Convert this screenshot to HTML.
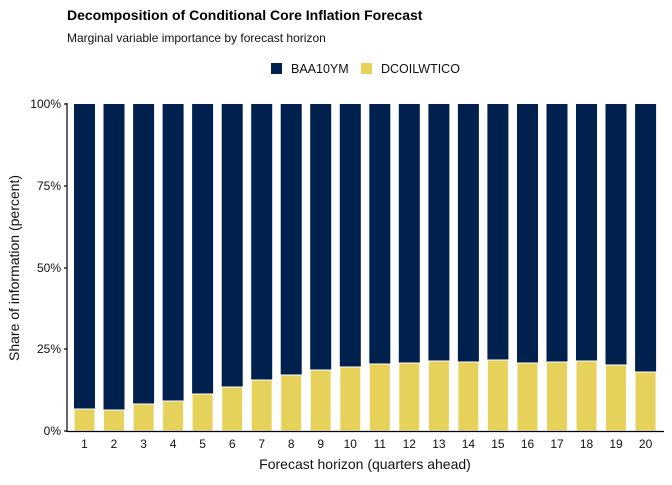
<!DOCTYPE html>
<html><head><meta charset="utf-8"><style>body{margin:0;background:#fff}</style></head><body>
<svg width="672" height="480" xmlns="http://www.w3.org/2000/svg" font-family="Liberation Sans, sans-serif">
<rect width="672" height="480" fill="#fff"/>
<text x="67" y="20" font-size="14" font-weight="bold" fill="#000">Decomposition of Conditional Core Inflation Forecast</text>
<text x="67" y="42" font-size="12" fill="#111">Marginal variable importance by forecast horizon</text>
<rect x="271" y="63" width="11" height="11" fill="#00214d"/>
<text x="291" y="73" font-size="12.5" fill="#111">BAA10YM</text>
<rect x="361" y="63" width="11" height="11" fill="#e6d25b"/>
<text x="381" y="73" font-size="12.5" fill="#111">DCOILWTICO</text>
<g fill="#00214d">
<rect x="74" y="104" width="21" height="327"/><rect x="103.5" y="104" width="21" height="327"/><rect x="133.1" y="104" width="21" height="327"/><rect x="162.6" y="104" width="21" height="327"/><rect x="192.1" y="104" width="21" height="327"/><rect x="221.7" y="104" width="21" height="327"/><rect x="251.2" y="104" width="21" height="327"/><rect x="280.7" y="104" width="21" height="327"/><rect x="310.2" y="104" width="21" height="327"/><rect x="339.8" y="104" width="21" height="327"/><rect x="369.3" y="104" width="21" height="327"/><rect x="398.8" y="104" width="21" height="327"/><rect x="428.4" y="104" width="21" height="327"/><rect x="457.9" y="104" width="21" height="327"/><rect x="487.4" y="104" width="21" height="327"/><rect x="517" y="104" width="21" height="327"/><rect x="546.5" y="104" width="21" height="327"/><rect x="576" y="104" width="21" height="327"/><rect x="605.5" y="104" width="21" height="327"/><rect x="635.1" y="104" width="21" height="327"/>
</g>
<g fill="#e6d25b" stroke="#fff" stroke-width="1">
<rect x="74" y="409" width="21" height="22"/><rect x="103.5" y="410" width="21" height="21"/><rect x="133.1" y="404" width="21" height="27"/><rect x="162.6" y="401" width="21" height="30"/><rect x="192.1" y="394" width="21" height="37"/><rect x="221.7" y="387" width="21" height="44"/><rect x="251.2" y="380" width="21" height="51"/><rect x="280.7" y="375" width="21" height="56"/><rect x="310.2" y="370" width="21" height="61"/><rect x="339.8" y="367" width="21" height="64"/><rect x="369.3" y="364" width="21" height="67"/><rect x="398.8" y="363" width="21" height="68"/><rect x="428.4" y="361" width="21" height="70"/><rect x="457.9" y="362" width="21" height="69"/><rect x="487.4" y="360" width="21" height="71"/><rect x="517" y="363" width="21" height="68"/><rect x="546.5" y="362" width="21" height="69"/><rect x="576" y="361" width="21" height="70"/><rect x="605.5" y="365" width="21" height="66"/><rect x="635.1" y="372" width="21" height="59"/>
</g>
<g stroke="#000" stroke-width="1.2">
<line x1="67" y1="103" x2="67" y2="431.5"/>
<line x1="66.5" y1="431.5" x2="664" y2="431.5"/>
<line x1="64" y1="104" x2="67" y2="104"/><line x1="64" y1="186" x2="67" y2="186"/><line x1="64" y1="268" x2="67" y2="268"/><line x1="64" y1="349" x2="67" y2="349"/><line x1="64" y1="431" x2="67" y2="431"/>
</g>
<g font-size="12" fill="#111" text-anchor="end">
<text x="61" y="108">100%</text><text x="61" y="190">75%</text><text x="61" y="272">50%</text><text x="61" y="353">25%</text><text x="61" y="435">0%</text>
</g>
<g font-size="12" fill="#111" text-anchor="middle">
<text x="84.5" y="448">1</text><text x="114" y="448">2</text><text x="143.6" y="448">3</text><text x="173.1" y="448">4</text><text x="202.6" y="448">5</text><text x="232.2" y="448">6</text><text x="261.7" y="448">7</text><text x="291.2" y="448">8</text><text x="320.7" y="448">9</text><text x="350.3" y="448">10</text><text x="379.8" y="448">11</text><text x="409.3" y="448">12</text><text x="438.9" y="448">13</text><text x="468.4" y="448">14</text><text x="497.9" y="448">15</text><text x="527.5" y="448">16</text><text x="557" y="448">17</text><text x="586.5" y="448">18</text><text x="616" y="448">19</text><text x="645.6" y="448">20</text>
</g>
<text x="365" y="469" font-size="14" fill="#111" text-anchor="middle">Forecast horizon (quarters ahead)</text>
<text transform="translate(19,268) rotate(-90)" font-size="14" fill="#111" text-anchor="middle">Share of information (percent)</text>
</svg>
</body></html>
